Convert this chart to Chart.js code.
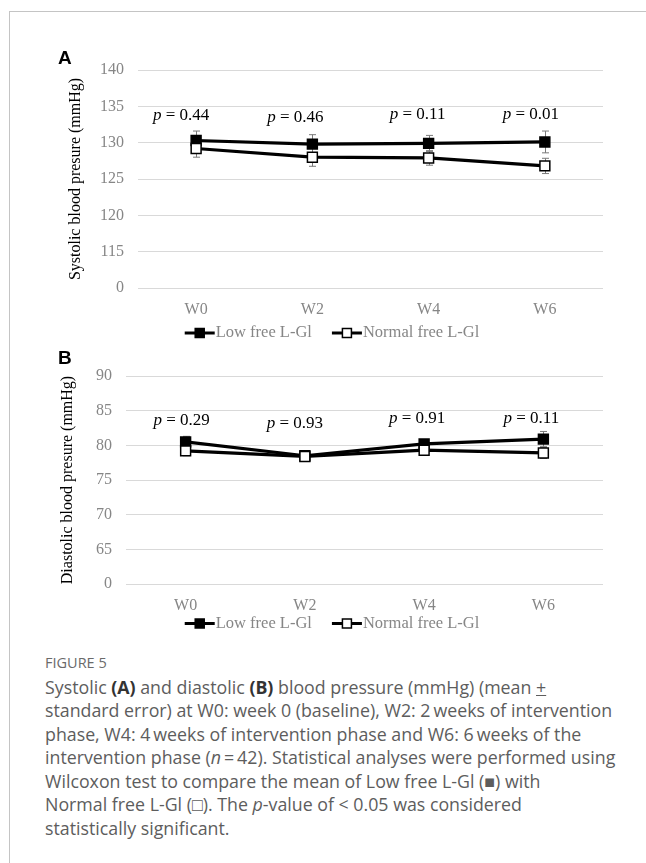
<!DOCTYPE html>
<html>
<head>
<meta charset="utf-8">
<script src="https://cdn.jsdelivr.net/npm/chart.js@4.4.1/dist/chart.umd.min.js"></script>
<style>
    html, body { margin: 0; padding: 0; background: #fff; }
    body { width: 646px; height: 863px; position: relative; overflow: hidden; }
    .frame {
        position: absolute; left: 9px; top: 11px; width: 660px; height: 870px;
        border-top: 1px solid #c4c4c4; border-left: 1px solid #c4c4c4;
    }
    .panel { position: absolute; left: 0; }
    .panel-letter {
        position: absolute; left: 58px; line-height: 19px;
        font-family: "Liberation Sans", Arial, sans-serif; font-weight: bold; font-size: 19px; color: #000;
    }
    .caption-title {
        position: absolute; left: 45px; line-height: 16px;
        font-family: "Open Sans", sans-serif; font-size: 14.5px; color: #6a6a6a;
    }
    .caption-body {
        position: absolute; left: 45px; line-height: 23.6px; white-space: nowrap;
        font-family: "Open Sans", sans-serif; font-size: 17.8px; color: #5d5d5d;
    }
    .caption-body b { color: #333; }
</style>
</head>
<body>
<div class="frame"></div>

<div class="panel" style="top:0; width:646px; height:345px;"><canvas id="chartA" width="646" height="345"></canvas></div>
<div class="panel" style="top:345px; width:646px; height:300px;"><canvas id="chartB" width="646" height="300"></canvas></div>
<div class="panel-letter" style="top:47.5px;">A</div>
<div class="panel-letter" style="top:347.5px;">B</div>

<div class="caption-title" style="top:655px;">FIGURE 5</div>
<div class="caption-body" style="top:675.5px;">
    <div>Systolic <b>(A)</b> and diastolic <b>(B)</b> blood pressure (mmHg) (mean <u>+</u></div>
    <div>standard error) at W0: week 0 (baseline), W2: 2&#8201;weeks of intervention</div>
    <div>phase, W4: 4&#8201;weeks of intervention phase and W6: 6&#8201;weeks of the</div>
    <div>intervention phase (<i>n</i>&#8201;=&#8201;42). Statistical analyses were performed using</div>
    <div>Wilcoxon test to compare the mean of Low free L-Gl (■) with</div>
    <div>Normal free L-Gl (□). The <i>p</i>-value of &lt; 0.05 was considered</div>
    <div>statistically significant.</div>
</div>

<script>
// Values (mean and standard error, mmHg)
const weeks = ['W0', 'W2', 'W4', 'W6'];
const seriesNames = ['Low free L-Gl', 'Normal free L-Gl'];

const systolicLow = [130.3, 129.8, 129.9, 130.1];
const systolicLowSE = [1.3, 1.3, 1.1, 1.5];
const systolicNormal = [129.2, 128.0, 127.9, 126.8];
const systolicNormalSE = [1.2, 1.25, 1.0, 1.05];
const systolicP = ['0.44', '0.46', '0.11', '0.01'];
const systolicTicks = ['0', '115', '120', '125', '130', '135', '140'];   // first tick is the axis break

const diastolicLow = [80.5, 78.5, 80.2, 80.9];
const diastolicLowSE = [0.8, 0.7, 0.6, 1.1];
const diastolicNormal = [79.2, 78.4, 79.3, 78.9];
const diastolicNormalSE = [0.7, 0.7, 0.6, 0.8];
const diastolicP = ['0.29', '0.93', '0.91', '0.11'];
const diastolicTicks = ['0', '65', '70', '75', '80', '85', '90'];

const SERIF = '"Liberation Serif", "Times New Roman", serif';
const TICK_GREY = '#868686';

// Gray whiskers with caps, drawn under the lines and markers.
const errorBarPlugin = {
    id: 'errorBars',
    beforeDatasetsDraw(chart) {
        const { ctx, scales: { x, y } } = chart;
        ctx.save();
        ctx.strokeStyle = '#7a7a7a';
        ctx.lineWidth = 1;
        chart.data.datasets.forEach(ds => {
            ds.data.forEach((v, i) => {
                const px = Math.round(x.getPixelForValue(i)) + 0.5;
                const top = y.getPixelForValue(v + ds.se[i]);
                const bot = y.getPixelForValue(v - ds.se[i]);
                ctx.beginPath();
                ctx.moveTo(px, top); ctx.lineTo(px, bot);
                ctx.moveTo(px - 3.5, top); ctx.lineTo(px + 3.5, top);
                ctx.moveTo(px - 3.5, bot); ctx.lineTo(px + 3.5, bot);
                ctx.stroke();
            });
        });
        ctx.restore();
    }
};

// "p = 0.xx" labels above each week, italic p like the original.
const pValuePlugin = {
    id: 'pValues',
    afterDatasetsDraw(chart, args, opts) {
        const { ctx, scales: { x, y } } = chart;
        const italic = 'italic 17px ' + SERIF;
        const plain = '17px ' + SERIF;
        ctx.save();
        ctx.fillStyle = '#000';
        ctx.textBaseline = 'middle';
        ctx.textAlign = 'left';
        opts.values.forEach((p, i) => {
            const rest = ' = ' + p;
            ctx.font = italic;
            const w1 = ctx.measureText('p').width;
            ctx.font = plain;
            const w2 = ctx.measureText(rest).width;
            const cx = x.getPixelForValue(i) + opts.dx[i];
            const cy = y.getPixelForValue(opts.at[i]);
            const left = cx - (w1 + w2) / 2;
            ctx.font = italic;
            ctx.fillText('p', left, cy);
            ctx.font = plain;
            ctx.fillText(rest, left + w1, cy);
        });
        ctx.restore();
    }
};

// Excel-style legend: a short thick line with the marker on it, then the label.
const lineLegendPlugin = {
    id: 'lineLegend',
    afterDraw(chart, args, opts) {
        const ctx = chart.ctx;
        const y = chart.chartArea.bottom + opts.offsetY;
        const symbolW = 30, itemGap = 20;
        ctx.save();
        ctx.font = opts.fontSize + 'px ' + SERIF;
        const items = chart.data.datasets.map(ds => ({ ds, w: symbolW + 1 + ctx.measureText(ds.label).width }));
        const total = items.reduce((s, it) => s + it.w, 0) + itemGap * (items.length - 1);
        let x0 = opts.centerX - total / 2;
        items.forEach(({ ds, w }) => {
            ctx.strokeStyle = ds.borderColor;
            ctx.lineWidth = 3;
            ctx.beginPath();
            ctx.moveTo(x0, y); ctx.lineTo(x0 + symbolW, y);
            ctx.stroke();
            const side = 9;
            ctx.fillStyle = ds.pointBackgroundColor;
            ctx.fillRect(x0 + symbolW / 2 - side / 2, y - side / 2, side, side);
            ctx.lineWidth = 1.5;
            ctx.strokeStyle = ds.pointBorderColor;
            ctx.strokeRect(x0 + symbolW / 2 - side / 2, y - side / 2, side, side);
            ctx.fillStyle = TICK_GREY;
            ctx.textBaseline = 'middle';
            ctx.fillText(ds.label, x0 + symbolW + 1, y);
            x0 += w + itemGap;
        });
        ctx.restore();
    }
};

function series(label, values, se, filled, order) {
    return {
        label, data: values, se, order,
        borderColor: '#000', borderWidth: 3.2, tension: 0,
        pointStyle: 'rect', pointRadius: 7, pointHoverRadius: 7,
        pointBackgroundColor: filled ? '#000' : '#fff',
        pointBorderColor: '#000', pointBorderWidth: 1.5
    };
}

function buildPanel(canvasId, p) {
    const step = Number(p.ticks[2]) - Number(p.ticks[1]);
    const yMin = Number(p.ticks[1]) - step;     // the "0" break sits one step below
    const yMax = Number(p.ticks[p.ticks.length - 1]);
    return new Chart(document.getElementById(canvasId), {
        type: 'line',
        data: {
            labels: weeks,
            datasets: [
                series(seriesNames[0], p.low, p.lowSE, true, 2),
                series(seriesNames[1], p.normal, p.normalSE, false, 1)
            ]
        },
        plugins: [errorBarPlugin, pValuePlugin, lineLegendPlugin],
        options: {
            responsive: false, animation: false, devicePixelRatio: 1,
            layout: { padding: p.padding },
            plugins: {
                legend: { display: false },
                tooltip: { enabled: false },
                pValues: { values: p.pValues, dx: p.pDx, at: p.pAt },
                lineLegend: { centerX: 332, offsetY: p.legendOffset, fontSize: 16.5 }
            },
            scales: {
                x: {
                    offset: true,
                    grid: { display: false, drawTicks: false },
                    border: { display: false },
                    ticks: { color: TICK_GREY, font: { family: SERIF, size: 16 }, padding: 12 }
                },
                y: {
                    min: yMin, max: yMax,
                    afterFit: scale => { scale.width = p.axisWidth; },
                    grid: { color: '#d9d9d9', lineWidth: 1, drawTicks: false },
                    border: { display: false },
                    ticks: {
                        stepSize: step, padding: 14, color: TICK_GREY,
                        font: { family: SERIF, size: 16 },
                        callback: (v, i) => p.ticks[i]
                    },
                    title: {
                        display: true, text: p.title, color: '#000',
                        font: { family: SERIF, size: 16 }, padding: { top: 4, bottom: 4 }
                    }
                }
            }
        }
    });
}

buildPanel('chartA', {
    low: systolicLow, lowSE: systolicLowSE,
    normal: systolicNormal, normalSE: systolicNormalSE,
    ticks: systolicTicks,
    title: 'Systolic blood presure (mmHg)',
    pValues: systolicP, pDx: [-15, -17, -11, -14], pAt: [133.7, 133.5, 133.9, 133.9],
    padding: { left: 62, right: 43, top: 70, bottom: 13.8 },
    axisWidth: 76,
    legendOffset: 45
});

buildPanel('chartB', {
    low: diastolicLow, lowSE: diastolicLowSE,
    normal: diastolicNormal, normalSE: diastolicNormalSE,
    ticks: diastolicTicks,
    title: 'Diastolic blood presure (mmHg)',
    pValues: diastolicP, pDx: [-4, -10, -7, -12], pAt: [83.6, 83.2, 83.9, 83.9],
    padding: { left: 54, right: 43, top: 31, bottom: 17.8 },
    axisWidth: 72,
    legendOffset: 39.5
});
</script>
</body>
</html>
